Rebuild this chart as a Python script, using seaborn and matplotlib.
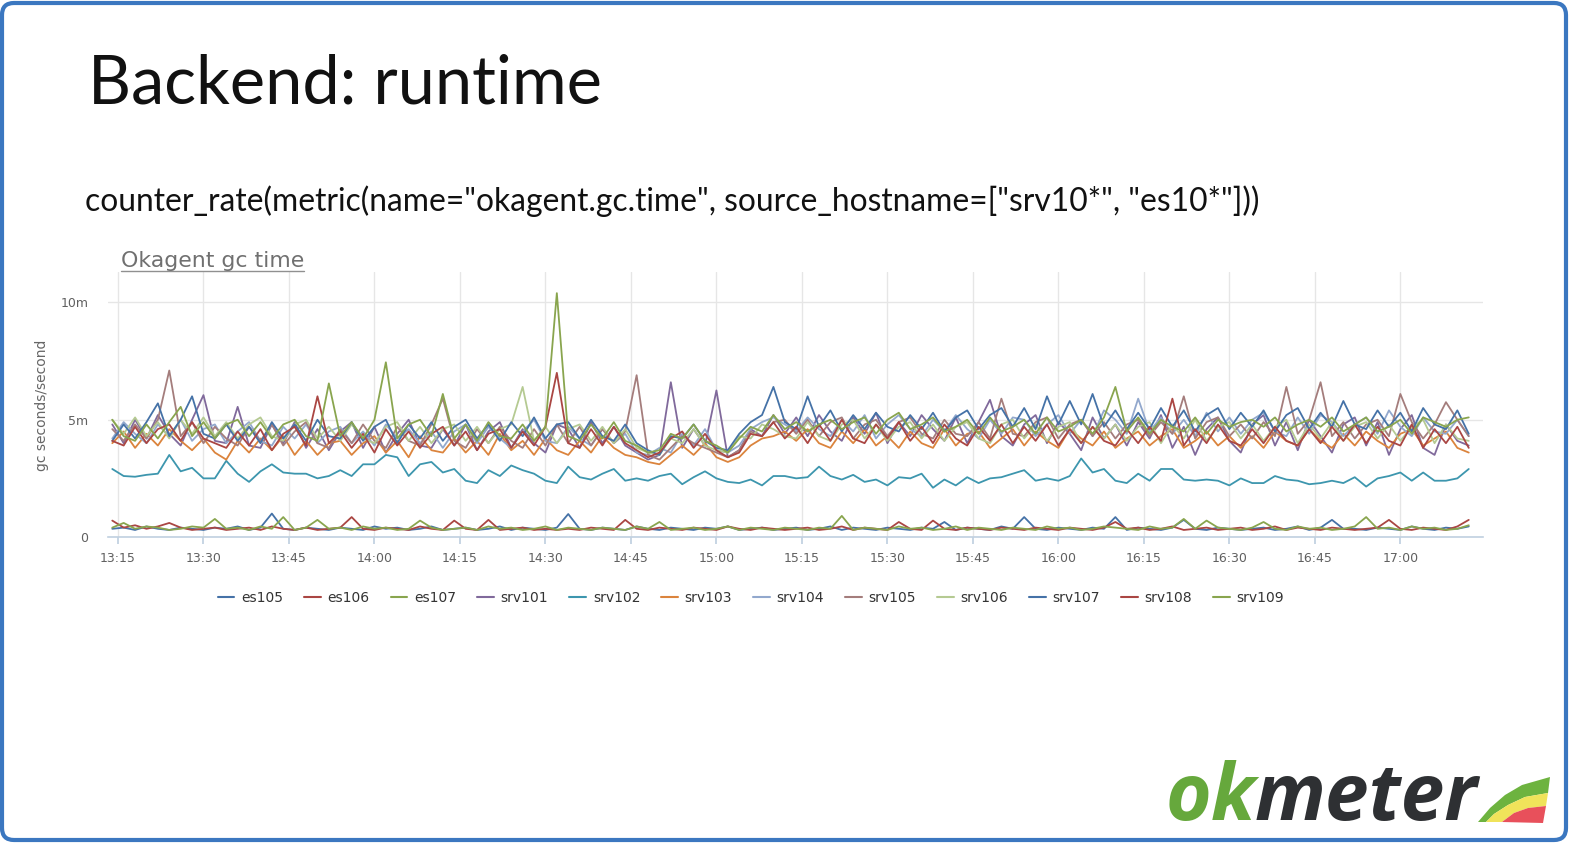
import numpy as np
import pandas as pd
import seaborn as sns
import matplotlib.pyplot as plt
import matplotlib.dates as mdates
from matplotlib.lines import Line2D
from matplotlib.patches import FancyBboxPatch, Polygon
from matplotlib.transforms import IdentityTransform

W, H = 1569, 843
DPI = 100

# время: каждые 2 минуты с 13:14 до 17:12
times = pd.date_range('2016-01-01 13:14', periods=120, freq='2min')

hosts = ['es105', 'es106', 'es107', 'srv101', 'srv102', 'srv103',
         'srv104', 'srv105', 'srv106', 'srv107', 'srv108', 'srv109']

# значения в миллисекундах gc за секунду
es105 = [0.35, 0.4, 0.3, 0.45, 0.35, 0.3, 0.4, 0.35, 0.3, 0.4,
         0.35, 0.45, 0.3, 0.4, 1.0, 0.35, 0.3, 0.4, 0.35, 0.3,
         0.4, 0.35, 0.3, 0.45, 0.35, 0.4, 0.3, 0.35, 0.45, 0.3,
         0.35, 0.4, 0.3, 0.35, 0.45, 0.3, 0.4, 0.35, 0.3, 0.4,
         0.98, 0.35, 0.3, 0.4, 0.35, 0.3, 0.45, 0.35, 0.3, 0.4,
         0.35, 0.3, 0.4, 0.35, 0.45, 0.3, 0.35, 0.4, 0.3, 0.35,
         0.4, 0.3, 0.35, 0.45, 0.3, 0.4, 0.35, 0.3, 0.4, 0.35,
         0.3, 0.4, 0.35, 0.64, 0.3, 0.4, 0.35, 0.3, 0.45, 0.35,
         0.85, 0.35, 0.3, 0.4, 0.35, 0.3, 0.4, 0.35, 0.85, 0.3,
         0.4, 0.35, 0.3, 0.4, 0.73, 0.35, 0.3, 0.4, 0.35, 0.3,
         0.35, 0.4, 0.3, 0.35, 0.45, 0.3, 0.4, 0.73, 0.35, 0.35,
         0.3, 0.4, 0.35, 0.3, 0.45, 0.35, 0.3, 0.4, 0.35, 0.45]
es106 = [0.7, 0.4, 0.5, 0.35, 0.45, 0.6, 0.4, 0.3, 0.35, 0.4,
         0.3, 0.35, 0.4, 0.3, 0.45, 0.35, 0.3, 0.4, 0.3, 0.35,
         0.4, 0.85, 0.35, 0.3, 0.4, 0.35, 0.3, 0.45, 0.35, 0.3,
         0.7, 0.35, 0.3, 0.73, 0.3, 0.35, 0.4, 0.3, 0.35, 0.3,
         0.35, 0.3, 0.4, 0.35, 0.3, 0.73, 0.35, 0.3, 0.4, 0.35,
         0.3, 0.4, 0.35, 0.3, 0.45, 0.35, 0.3, 0.4, 0.35, 0.3,
         0.35, 0.4, 0.3, 0.35, 0.45, 0.3, 0.4, 0.35, 0.3, 0.64,
         0.35, 0.3, 0.7, 0.35, 0.3, 0.4, 0.35, 0.3, 0.4, 0.35,
         0.3, 0.4, 0.35, 0.3, 0.4, 0.35, 0.3, 0.4, 0.64, 0.35,
         0.4, 0.3, 0.35, 0.45, 0.3, 0.35, 0.4, 0.3, 0.35, 0.4,
         0.3, 0.35, 0.45, 0.3, 0.4, 0.35, 0.3, 0.4, 0.35, 0.3,
         0.35, 0.4, 0.73, 0.35, 0.3, 0.4, 0.35, 0.3, 0.45, 0.73]
es107 = [0.4, 0.6, 0.35, 0.45, 0.4, 0.3, 0.35, 0.45, 0.4, 0.77,
         0.35, 0.4, 0.3, 0.45, 0.35, 0.85, 0.3, 0.4, 0.73, 0.35,
         0.4, 0.3, 0.45, 0.35, 0.4, 0.3, 0.35, 0.7, 0.4, 0.3,
         0.35, 0.4, 0.3, 0.45, 0.35, 0.4, 0.3, 0.35, 0.45, 0.3,
         0.4, 0.35, 0.3, 0.4, 0.35, 0.3, 0.45, 0.35, 0.64, 0.3,
         0.35, 0.4, 0.3, 0.35, 0.45, 0.3, 0.4, 0.35, 0.3, 0.4,
         0.35, 0.3, 0.4, 0.35, 0.9, 0.3, 0.4, 0.35, 0.3, 0.45,
         0.35, 0.4, 0.3, 0.35, 0.45, 0.3, 0.4, 0.35, 0.3, 0.4,
         0.35, 0.3, 0.45, 0.35, 0.4, 0.3, 0.35, 0.45, 0.4, 0.35,
         0.3, 0.45, 0.35, 0.4, 0.77, 0.35, 0.7, 0.4, 0.35, 0.3,
         0.4, 0.64, 0.35, 0.3, 0.45, 0.35, 0.4, 0.3, 0.35, 0.45,
         0.85, 0.35, 0.4, 0.3, 0.45, 0.35, 0.4, 0.3, 0.35, 0.5]
srv101 = [4.8, 4.0, 5.0, 4.2, 5.2, 4.4, 3.9, 5.0, 6.05, 4.1,
          4.0, 5.55, 3.9, 3.8, 4.8, 4.0, 4.9, 3.8, 4.6, 3.7,
          4.5, 4.9, 3.8, 4.7, 3.6, 4.4, 5.0, 3.9, 3.8, 4.6,
          3.9, 4.8, 3.7, 4.5, 4.9, 3.8, 4.6, 4.0, 3.6, 4.8,
          4.6, 3.8, 4.9, 4.0, 4.7, 3.9, 3.6, 3.3, 3.5, 6.6,
          3.8, 4.6, 3.9, 6.25, 3.4, 3.7, 4.6, 4.3, 5.2, 4.4,
          5.1, 4.3, 5.2, 4.5, 4.1, 5.1, 4.4, 5.3, 4.0, 4.9,
          4.3, 5.2, 4.6, 4.1, 5.1, 4.0, 4.9, 5.85, 4.3, 3.9,
          4.8, 5.2, 4.0, 4.9, 4.4, 3.7, 5.1, 4.2, 4.8, 3.9,
          4.9, 4.2, 5.2, 3.8, 4.7, 3.5, 4.6, 5.1, 4.1, 3.6,
          4.8, 5.2, 3.9, 4.9, 3.7, 5.0, 4.3, 3.6, 4.8, 5.1,
          3.9, 4.9, 3.5, 4.6, 5.2, 3.8, 3.5, 4.8, 4.1, 3.9]
srv102 = [2.9, 2.6, 2.57, 2.65, 2.7, 3.5, 2.8, 2.95, 2.5, 2.5,
          3.25, 2.7, 2.35, 2.8, 3.1, 2.75, 2.7, 2.7, 2.5, 2.6,
          2.85, 2.6, 3.1, 3.1, 3.5, 3.4, 2.6, 3.1, 3.2, 2.75,
          2.9, 2.4, 2.3, 2.85, 2.6, 3.05, 2.85, 2.7, 2.4, 2.3,
          3.0, 2.55, 2.45, 2.7, 2.9, 2.4, 2.5, 2.4, 2.6, 2.7,
          2.25, 2.55, 2.8, 2.5, 2.35, 2.3, 2.45, 2.2, 2.6, 2.6,
          2.5, 2.55, 3.0, 2.6, 2.45, 2.65, 2.35, 2.45, 2.2, 2.55,
          2.5, 2.7, 2.1, 2.45, 2.2, 2.55, 2.3, 2.5, 2.55, 2.7,
          2.85, 2.4, 2.5, 2.4, 2.6, 3.35, 2.75, 2.9, 2.4, 2.3,
          2.7, 2.4, 2.9, 2.9, 2.45, 2.4, 2.45, 2.4, 2.2, 2.5,
          2.3, 2.3, 2.6, 2.45, 2.4, 2.25, 2.3, 2.4, 2.3, 2.55,
          2.15, 2.5, 2.6, 2.75, 2.4, 2.75, 2.4, 2.4, 2.5, 2.9]
srv103 = [4.0, 4.5, 3.8, 4.4, 3.9, 4.6, 4.1, 3.7, 4.2, 3.6,
          3.3, 4.1, 3.6, 4.2, 3.7, 4.3, 3.5, 4.1, 3.5, 4.0,
          4.1, 3.5, 4.0, 4.3, 3.6, 4.1, 3.4, 4.3, 3.7, 3.6,
          4.2, 3.6, 4.1, 3.5, 4.4, 3.7, 4.1, 3.5, 4.2, 3.7,
          3.5, 4.1, 3.6, 4.3, 3.8, 3.5, 3.4, 3.2, 3.1, 3.5,
          3.9, 3.5, 4.0, 3.4, 3.2, 3.4, 3.9, 4.2, 4.3, 4.5,
          4.1, 4.6, 4.0, 3.8, 4.5, 4.0, 4.6, 3.9, 4.3, 3.8,
          4.5, 4.0, 3.8, 4.6, 3.9, 4.4, 4.5, 3.8, 4.2, 4.6,
          3.9, 4.5, 4.1, 3.8, 4.6, 4.2, 3.9, 4.5, 3.8, 4.2,
          4.5, 3.9, 4.3, 4.6, 3.8, 4.1, 4.5, 3.9, 4.3, 3.8,
          4.3, 3.8, 4.5, 4.1, 3.9, 4.6, 4.1, 3.8, 4.4, 3.9,
          4.5, 4.1, 3.8, 4.4, 4.6, 3.9, 4.2, 4.5, 3.8, 3.6]
srv104 = [4.2, 4.9, 4.4, 4.0, 4.8, 4.3, 5.0, 4.1, 4.6, 4.8,
          4.0, 4.5, 4.9, 4.1, 3.9, 4.7, 4.2, 4.8, 4.0, 4.5,
          4.7, 4.0, 4.5, 3.9, 4.8, 4.2, 4.6, 4.0, 4.5, 3.8,
          4.5, 4.8, 4.0, 4.7, 4.2, 3.8, 4.5, 5.0, 4.1, 4.0,
          4.7, 4.2, 3.9, 4.6, 4.0, 4.4, 3.6, 3.5, 3.8, 3.6,
          4.4, 3.9, 4.6, 3.7, 3.6, 3.9, 4.6, 4.9, 5.1, 4.8,
          4.5, 5.1, 4.6, 4.3, 5.0, 4.5, 5.2, 4.2, 4.8, 5.2,
          4.6, 4.3, 5.0, 4.5, 5.2, 4.6, 4.2, 5.0, 4.4, 5.1,
          5.0, 4.3, 4.8, 5.2, 4.4, 5.0, 4.3, 5.4, 5.0, 4.4,
          5.9, 4.5, 5.1, 4.4, 5.0, 4.3, 5.3, 4.5, 5.1, 4.4,
          5.0, 5.3, 4.5, 4.3, 5.1, 4.4, 5.2, 4.9, 4.3, 4.8,
          5.1, 4.4, 5.4, 4.7, 4.3, 5.1, 4.5, 4.4, 5.0, 4.3]
srv105 = [4.6, 4.1, 4.8, 4.2, 5.0, 7.1, 4.3, 4.9, 4.0, 4.7,
          4.2, 3.9, 4.7, 4.1, 4.8, 3.9, 4.5, 4.9, 4.0, 3.8,
          4.6, 4.0, 4.8, 4.1, 3.8, 4.7, 4.1, 3.9, 4.8, 5.9,
          4.1, 3.8, 4.6, 4.0, 4.7, 4.1, 3.8, 4.6, 3.9, 4.8,
          4.0, 4.7, 3.9, 4.6, 4.0, 4.5, 6.9, 3.5, 3.3, 3.8,
          4.3, 4.0, 3.8, 3.6, 3.4, 3.7, 4.5, 4.3, 4.9, 5.0,
          4.4, 5.0, 4.3, 4.9, 5.1, 4.2, 4.8, 5.0, 4.3, 4.9,
          5.1, 4.4, 4.2, 5.0, 4.4, 4.3, 4.9, 4.2, 5.9, 4.4,
          4.3, 4.9, 5.1, 4.2, 4.8, 5.0, 4.3, 4.9, 4.2, 4.8,
          5.0, 4.3, 4.9, 4.4, 6.0, 4.2, 4.9, 5.1, 4.3, 4.8,
          4.2, 4.9, 4.3, 6.4, 4.4, 5.0, 6.6, 4.3, 4.9, 4.2,
          4.8, 5.0, 4.3, 6.1, 4.9, 4.2, 4.8, 5.75, 5.0, 4.3]
srv106 = [5.0, 4.4, 5.1, 4.3, 4.9, 4.2, 5.0, 4.4, 5.1, 4.3,
          4.9, 4.2, 4.8, 5.1, 4.3, 4.1, 4.8, 5.0, 4.2, 4.7,
          4.1, 4.8, 4.2, 4.0, 4.7, 4.9, 4.1, 4.7, 4.0, 4.6,
          4.8, 4.1, 4.7, 4.0, 4.6, 4.8, 6.4, 4.1, 4.7, 4.0,
          4.6, 4.8, 4.1, 4.7, 4.0, 4.6, 3.8, 3.6, 3.5, 4.2,
          4.0, 4.6, 3.9, 3.7, 3.6, 4.3, 4.2, 4.8, 4.6, 4.3,
          4.2, 4.9, 4.3, 4.1, 4.8, 5.0, 4.2, 4.8, 4.1, 4.7,
          4.9, 4.2, 4.8, 4.1, 4.7, 4.9, 4.2, 4.0, 4.8, 5.0,
          4.2, 4.8, 4.1, 4.7, 4.9, 4.0, 4.7, 4.2, 4.8, 4.1,
          4.7, 4.9, 4.0, 4.8, 4.2, 5.0, 4.1, 4.7, 4.9, 4.2,
          4.8, 4.1, 4.7, 5.0, 4.0, 4.8, 4.2, 4.9, 4.1, 4.7,
          4.9, 4.2, 4.8, 4.1, 4.7, 5.0, 4.0, 4.8, 4.2, 4.1]
srv107 = [4.1, 4.8, 4.2, 4.9, 5.7, 4.3, 5.0, 6.0, 4.4, 4.2,
          4.8, 4.1, 4.7, 4.0, 4.9, 4.2, 4.8, 4.1, 5.0, 4.3,
          4.2, 4.9, 4.1, 4.7, 5.0, 4.0, 4.8, 4.2, 4.9, 4.1,
          4.7, 5.0, 4.2, 4.8, 4.1, 4.9, 4.3, 5.1, 4.2, 4.8,
          4.9, 4.2, 5.0, 4.3, 4.1, 4.8, 4.0, 3.7, 3.5, 4.3,
          4.2, 4.8, 4.1, 3.8, 3.7, 4.4, 4.9, 5.2, 6.4, 4.9,
          4.6, 6.0, 4.7, 5.4, 4.5, 5.2, 4.6, 5.3, 4.7, 4.5,
          5.2, 4.6, 5.3, 4.5, 5.1, 5.4, 4.6, 5.2, 5.5, 4.7,
          5.5, 4.6, 6.0, 4.8, 5.8, 4.8, 6.1, 4.7, 5.4, 4.6,
          5.3, 4.6, 5.5, 4.7, 5.4, 4.5, 5.2, 5.5, 4.6, 5.3,
          4.7, 5.4, 4.5, 5.2, 5.5, 4.6, 5.3, 4.7, 5.8, 4.8,
          4.6, 5.4, 4.7, 5.3, 4.5, 5.5, 4.8, 4.6, 5.4, 4.4]
srv108 = [4.1, 3.9, 4.7, 4.0, 4.6, 4.8, 4.1, 4.9, 4.2, 4.0,
          3.8, 4.5, 3.9, 4.6, 3.7, 4.4, 4.7, 3.9, 6.0, 4.0,
          4.5, 3.8, 4.4, 3.6, 4.6, 3.9, 4.5, 3.8, 4.4, 4.7,
          3.9, 4.5, 3.7, 4.4, 4.6, 3.8, 4.5, 3.9, 4.7, 7.0,
          4.0, 3.8, 4.6, 3.9, 4.7, 4.0, 3.7, 3.4, 3.6, 4.2,
          4.5, 3.8, 4.4, 3.7, 3.4, 3.6, 4.4, 4.3, 4.9, 4.2,
          4.7, 4.0, 4.8, 4.1, 5.0, 4.2, 4.0, 4.8, 4.2, 4.9,
          4.1, 4.7, 4.0, 4.8, 4.2, 3.9, 4.7, 4.1, 4.8, 4.0,
          4.7, 4.1, 4.8, 3.9, 4.6, 4.0, 4.7, 4.1, 3.9, 4.6,
          4.0, 4.7, 4.1, 5.9, 3.9, 4.6, 4.0, 4.8, 4.1, 3.9,
          4.6, 4.0, 4.7, 4.1, 3.9, 4.6, 4.0, 4.7, 4.1, 4.8,
          4.0, 4.7, 4.1, 3.9, 4.8, 3.8, 4.6, 4.0, 4.7, 3.8]
srv109 = [5.0, 4.3, 4.1, 4.8, 4.2, 4.9, 5.55, 4.3, 4.9, 4.2,
          4.8, 5.0, 4.3, 4.9, 4.2, 4.8, 5.0, 4.3, 4.1, 6.55,
          4.3, 4.9, 4.2, 5.0, 7.45, 4.2, 4.8, 5.0, 4.3, 6.1,
          4.2, 4.8, 4.1, 4.9, 4.3, 4.2, 4.8, 4.1, 4.7, 10.4,
          4.3, 4.1, 4.8, 4.2, 4.9, 4.1, 3.9, 3.6, 3.7, 4.4,
          4.2, 4.8, 4.1, 3.9, 3.6, 4.2, 4.7, 4.5, 5.2, 4.6,
          4.9, 4.5, 4.8, 5.0, 4.6, 4.9, 5.1, 4.4, 5.0, 5.3,
          4.6, 4.8, 5.1, 4.5, 4.7, 5.0, 4.4, 5.1, 4.5, 4.7,
          5.0, 4.4, 5.1, 4.5, 4.7, 5.0, 4.4, 5.1, 6.4, 4.5,
          5.1, 4.4, 5.0, 4.7, 4.5, 5.1, 4.4, 5.0, 4.7, 4.9,
          5.0, 4.7, 5.1, 4.5, 4.8, 5.0, 4.7, 5.1, 4.5, 4.8,
          5.1, 4.5, 4.7, 5.0, 4.4, 5.1, 4.9, 4.7, 5.0, 5.1]

series = [es105, es106, es107, srv101, srv102, srv103,
          srv104, srv105, srv106, srv107, srv108, srv109]

# палитра как в highcharts
base = ['#4572A7', '#AA4643', '#89A54E', '#80699B', '#3D96AE',
        '#DB843D', '#92A8CD', '#A47D7C', '#B5CA92']
colors = {h: base[i % len(base)] for i, h in enumerate(hosts)}

rows = []
for h, vals in zip(hosts, series):
    for t, v in zip(times, vals):
        rows.append((t, v, h))
df = pd.DataFrame(rows, columns=['time', 'value', 'host'])

sns.set_theme(style='white')
plt.rcParams['font.family'] = ['DejaVu Sans']

fig = plt.figure(figsize=(W / DPI, H / DPI), dpi=DPI)
fig.patch.set_facecolor('white')

ax = fig.add_axes([108 / W, 1 - 537 / H, (1483 - 108) / W, (537 - 272) / H])
sns.lineplot(data=df, x='time', y='value', hue='host', hue_order=hosts,
             palette=colors, linewidth=1.3, legend=False, errorbar=None,
             ax=ax)

ax.set_xlim(pd.Timestamp('2016-01-01 13:13:15'), pd.Timestamp('2016-01-01 17:14:30'))
ax.set_ylim(0, 11.3)
ax.set_yticks([0, 5, 10])
ax.set_yticklabels(['0', '5m', '10m'])
ax.xaxis.set_major_locator(mdates.MinuteLocator(byminute=[0, 15, 30, 45]))
ax.xaxis.set_major_formatter(mdates.DateFormatter('%H:%M'))
ax.set_xlabel('')
ax.set_ylabel('')
ax.grid(True, color='#e6e6e6', lw=1)
ax.set_axisbelow(True)
for s in ['top', 'right', 'left']:
    ax.spines[s].set_visible(False)
ax.spines['bottom'].set_color('#c0d0e0')
ax.spines['bottom'].set_linewidth(1.2)
ax.tick_params(axis='x', length=5, color='#c0d0e0', labelsize=9,
               labelcolor='#606060', pad=6, bottom=True)
ax.tick_params(axis='y', length=0, labelsize=9, labelcolor='#606060', pad=14)

# тексты слайда
title = fig.text(88 / W, 1 - 103 / H, 'Backend: runtime', fontsize=44,
                 family='Lato', weight='normal', color='#111111', va='baseline')
query = fig.text(85 / W, 1 - 211 / H,
                 'counter_rate(metric(name="okagent.gc.time", source_hostname=["srv10*", "es10*"]))',
                 fontsize=20, family='Lato', color='#111111', va='baseline')
ctitle = fig.text(121 / W, 1 - 267 / H, 'Okagent gc time', fontsize=13,
                  color='#707070', va='baseline')
fig.text(42 / W, 1 - 405 / H, 'gc seconds/second', rotation=90, fontsize=10,
         color='#666666', ha='center', va='center')

ok = fig.text(1166 / W, 1 - 820 / H, 'ok', fontsize=44, family='Open Sans',
              weight='bold', style='italic', color='#66a83c', va='baseline')
meter = fig.text(1230 / W, 1 - 820 / H, 'meter', fontsize=44, family='Open Sans',
                 weight='bold', style='italic', color='#2e3033', va='baseline')


def fit_width(t, target):
    fig.canvas.draw()
    w = t.get_window_extent().width
    t.set_fontsize(t.get_fontsize() * target / w)


fit_width(title, 514)
fit_width(query, 1177)
fit_width(ctitle, 182)

fig.canvas.draw()
wtot = ok.get_window_extent().width + meter.get_window_extent().width
k = 314 / wtot
ok.set_fontsize(ok.get_fontsize() * k)
meter.set_fontsize(meter.get_fontsize() * k)
fig.canvas.draw()
bb = ok.get_window_extent()
meter.set_x((bb.x1 - 2) / W)

# подчёркивание заголовка графика
fig.canvas.draw()
cb = ctitle.get_window_extent()
fig.add_artist(Line2D([cb.x0, cb.x1], [H - 271, H - 271], color='#909090',
                      lw=1.0, transform=IdentityTransform()))

# легенда
handles = [Line2D([0], [0], color=colors[h], lw=1.5) for h in hosts]
fig.legend(handles, hosts, loc='center', bbox_to_anchor=(751 / W, 1 - 598 / H),
           ncol=12, frameon=False, fontsize=10, handlelength=1.2,
           handletextpad=0.5, columnspacing=1.5, labelcolor='#333333')

# логотип: цветной хвост
def poly(pts, color):
    fig.add_artist(Polygon([(x, H - y) for x, y in pts], closed=True,
                           facecolor=color, edgecolor='none',
                           transform=IdentityTransform()))


poly([(1478, 822), (1490, 808), (1505, 795), (1522, 785), (1550, 777),
      (1548, 793), (1525, 797), (1508, 805), (1494, 814), (1486, 822)], '#6db33f')
poly([(1486, 822), (1494, 814), (1508, 805), (1525, 797), (1548, 793),
      (1546, 806), (1528, 808), (1514, 813), (1502, 822)], '#f0e35a')
poly([(1502, 822), (1514, 813), (1528, 808), (1546, 806), (1543, 823)], '#e8505b')

# рамка слайда
fig.add_artist(FancyBboxPatch((2, 3), W - 5, H - 6,
                              boxstyle='round,pad=0,rounding_size=12',
                              fill=False, edgecolor='#3b77c0', lw=3,
                              transform=IdentityTransform()))

fig.savefig('out.png', dpi=DPI, facecolor='white')
